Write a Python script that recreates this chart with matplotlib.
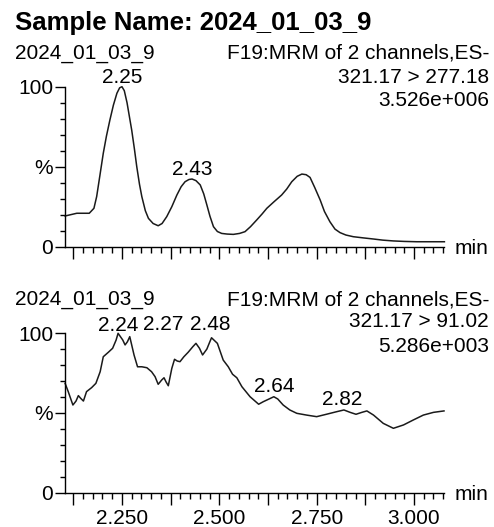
import numpy as np
import matplotlib
matplotlib.use("Agg")
import matplotlib.pyplot as plt
from matplotlib.ticker import FixedLocator, MultipleLocator

plt.rcParams["font.family"] = ["Liberation Sans", "DejaVu Sans"]

# ---------------------- Daten ----------------------
sample_name = "2024_01_03_9"

# Kanal 1: 321.17 > 277.18
t_ch1 = [2.104, 2.134, 2.166, 2.178, 2.185, 2.193, 2.202, 2.210, 2.219, 2.228,
         2.237, 2.244, 2.250, 2.256, 2.263, 2.270, 2.275, 2.282, 2.288, 2.295,
         2.301, 2.310, 2.318, 2.330, 2.343, 2.353, 2.365, 2.378, 2.391, 2.402,
         2.412, 2.422, 2.430, 2.440, 2.451, 2.460, 2.468, 2.476, 2.485, 2.495,
         2.506, 2.520, 2.536, 2.552, 2.566, 2.580, 2.596, 2.610, 2.622, 2.640,
         2.660, 2.673, 2.686, 2.700, 2.712, 2.723, 2.733, 2.745, 2.759, 2.770,
         2.784, 2.797, 2.810, 2.825, 2.844, 2.870, 2.896, 2.920, 2.947, 2.975,
         3.007, 3.078]
i_ch1 = [19.2, 20.9, 20.9, 24.0, 31.3, 44.0, 58.4, 69.0, 79.2, 88.5,
         95.9, 99.3, 100.0, 97.5, 90.0, 80.0, 72.9, 61.0, 50.0, 39.0,
         31.3, 22.5, 17.7, 14.5, 13.1, 14.5, 18.8, 25.0, 32.3, 37.5,
         40.6, 42.0, 42.3, 41.3, 38.6, 33.0, 26.1, 19.0, 12.5, 9.5,
         8.3, 7.9, 7.7, 8.3, 9.4, 12.5, 16.7, 20.5, 24.0, 28.0,
         32.3, 36.0, 40.6, 44.0, 45.4, 45.0, 43.3, 37.0, 29.2, 22.0,
         15.6, 11.0, 8.8, 7.3, 6.25, 5.5, 4.8, 4.1, 3.6, 3.3,
         3.1, 3.1]
peaks_ch1 = [2.25, 2.43]
peak_val_ch1 = [100.0, 42.3]
info_ch1 = ["321.17 > 277.18", "3.526e+006"]

# Kanal 2: 321.17 > 91.02
t_ch2 = [2.104, 2.112, 2.124, 2.132, 2.138, 2.144, 2.151, 2.159, 2.172, 2.183,
         2.194, 2.202, 2.215, 2.226, 2.235, 2.240, 2.252, 2.258, 2.264, 2.270,
         2.281, 2.290, 2.301, 2.314, 2.326, 2.335, 2.343, 2.352, 2.358, 2.363,
         2.369, 2.378, 2.385, 2.392, 2.399, 2.409, 2.420, 2.432, 2.440, 2.449,
         2.457, 2.468, 2.475, 2.480, 2.495, 2.504, 2.510, 2.523, 2.534, 2.545,
         2.558, 2.579, 2.601, 2.613, 2.640, 2.650, 2.664, 2.681, 2.699, 2.724,
         2.750, 2.775, 2.801, 2.820, 2.836, 2.851, 2.866, 2.879, 2.896, 2.921,
         2.947, 2.973, 2.998, 3.024, 3.050, 3.077]
i_ch2 = [68.6, 63.4, 55.0, 57.5, 60.9, 59.2, 57.5, 63.4, 65.9, 68.6,
         75.9, 85.3, 88.1, 90.6, 95.8, 100.0, 95.8, 92.7, 94.7, 97.9,
         86.4, 79.0, 79.0, 78.4, 75.9, 72.8, 68.0, 70.7, 72.1, 69.6,
         67.1, 78.0, 83.7, 82.6, 82.2, 85.3, 88.1, 91.6, 93.7, 90.6,
         86.4, 90.1, 94.3, 97.2, 93.7, 87.4, 83.2, 79.0, 74.3, 72.1,
         66.5, 60.2, 55.5, 57.1, 60.2, 58.8, 55.0, 51.9, 49.8, 48.7,
         47.7, 49.2, 50.8, 51.9, 50.4, 49.2, 50.4, 51.3, 48.7, 43.5,
         40.4, 42.5, 45.6, 48.7, 50.4, 51.3]
peaks_ch2 = [2.24, 2.27, 2.48, 2.64, 2.82]
peak_val_ch2 = [100.0, 97.9, 97.2, 60.2, 51.9]
info_ch2 = ["321.17 > 91.02", "5.286e+003"]

# Achsen
x_major = [2.125, 2.250, 2.375, 2.500, 2.625, 2.750, 2.875, 3.000]
x_labels = ["", "2.250", "", "2.500", "", "2.750", "", "3.000"]
y_major = [0, 50, 100]
y_labels = ["0", "%", "100"]

W, H = 494, 527
FS = 15


def px(x, y):
    return x / W, 1 - y / H


def style_axis(ax, show_xlabels):
    ax.set_xlim(2.1037, 3.077)
    ax.set_ylim(0, 100)
    for s in ["top", "right"]:
        ax.spines[s].set_visible(False)
    for s in ["left", "bottom"]:
        ax.spines[s].set_linewidth(1.0)
    ax.xaxis.set_major_locator(FixedLocator(x_major))
    ax.xaxis.set_minor_locator(MultipleLocator(0.025))
    ax.set_xticklabels(x_labels if show_xlabels else [""] * len(x_major))
    ax.yaxis.set_major_locator(FixedLocator(y_major))
    ax.yaxis.set_minor_locator(MultipleLocator(10))
    ax.set_yticklabels(y_labels)
    ax.tick_params(axis="x", which="major", length=8.6, width=1.0, pad=3, labelsize=FS)
    ax.tick_params(axis="x", which="minor", length=4.3, width=1.0)
    ax.tick_params(axis="y", which="major", length=7, width=1.0, pad=1.5, labelsize=FS)
    ax.tick_params(axis="y", which="minor", length=3.6, width=1.0)
    ax.patch.set_visible(False)


def panel(ax, t, inten, peaks, peak_vals, offsets, info, y_head):
    ax.plot(t, inten, color="#1a1a1a", lw=1.1, clip_on=False)
    for p, v, (dx, dy) in zip(peaks, peak_vals, offsets):
        ax.annotate(f"{p:.2f}", xy=(p, v), xytext=(dx, dy), textcoords="offset points",
                    ha="center", va="baseline", fontsize=FS, annotation_clip=False)
    # Kopfzeilen
    fig.text(*px(15, y_head[0]), sample_name, fontsize=FS, va="baseline", ha="left")
    fig.text(*px(489, y_head[0]), "F19:MRM of 2 channels,ES-", fontsize=FS,
             va="baseline", ha="right")
    fig.text(*px(489, y_head[1]), info[0], fontsize=FS, va="baseline", ha="right")
    fig.text(*px(489, y_head[2]), info[1], fontsize=FS, va="baseline", ha="right")


fig = plt.figure(figsize=(W / 100, H / 100), dpi=100)

fig.text(*px(15, 30), "Sample Name: " + sample_name, fontsize=18.5, fontweight="bold",
         va="baseline", ha="left")

ax1 = fig.add_axes([65 / W, 1 - 246.7 / H, 379 / W, 160 / H])
style_axis(ax1, False)
panel(ax1, t_ch1, i_ch1, peaks_ch1, peak_val_ch1, [(0, 2.5), (0, 2.8)],
      info_ch1, [58.3, 83.3, 106])
fig.text(*px(455, 246.7), "min", fontsize=FS, va="center_baseline", ha="left")

ax2 = fig.add_axes([65 / W, 1 - 492.7 / H, 379 / W, 159.4 / H])
style_axis(ax2, True)
offs2 = [(0, 1.7), (24, 4.9), (-0.7, 5.5), (0, 3.6), (-1.5, 3.6)]
panel(ax2, t_ch2, i_ch2, peaks_ch2, peak_val_ch2, offs2, info_ch2, [305, 326.7, 351.7])
fig.text(*px(455, 492.7), "min", fontsize=FS, va="center_baseline", ha="left")

fig.savefig("out.png", dpi=100)
